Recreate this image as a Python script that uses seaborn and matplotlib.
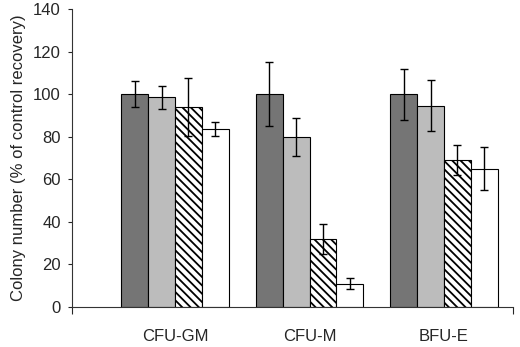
import numpy as np
import pandas as pd
import seaborn as sns
import matplotlib
matplotlib.use("Agg")
import matplotlib.pyplot as plt
from matplotlib.ticker import FixedLocator

# Data
categories = ['CFU-GM', 'CFU-M', 'BFU-E']
treatments = ['T1', 'T2', 'T3', 'T4']
means = {
    'T1': [100, 100, 100],
    'T2': [98.5, 80, 94.5],
    'T3': [94, 32, 69],
    'T4': [83.5, 11, 65],
}
errors = {
    'T1': [6, 15, 12],
    'T2': [5.5, 9, 12],
    'T3': [13.5, 7, 7],
    'T4': [3.2, 2.7, 10],
}
fills = ['#757575', '#bcbcbc', 'white', 'white']

rows = []
for t in treatments:
    for c, v in zip(categories, means[t]):
        rows.append({'cell': c, 'treatment': t, 'value': v})
df = pd.DataFrame(rows)

sns.set_style('white')
plt.rcParams['font.family'] = ['Liberation Sans', 'DejaVu Sans']
plt.rcParams['hatch.linewidth'] = 1.3

fig = plt.figure(figsize=(5.2, 3.47), dpi=100)
ax = fig.add_axes([0.1385, 0.1153, 0.848, 0.8588])

sns.barplot(data=df, x='cell', y='value', hue='treatment', order=categories,
            hue_order=treatments, palette=fills, errorbar=None, width=0.8,
            edgecolor='black', linewidth=0.8, saturation=1, legend=False, ax=ax)

# hatch on the third series, error bars from bar positions
for i, (cont, t) in enumerate(zip(ax.containers, treatments)):
    for bar, err in zip(cont, errors[t]):
        if i == 2:
            bar.set_hatch('\\\\\\\\')
        xc = bar.get_x() + bar.get_width() / 2
        ax.errorbar(xc, bar.get_height(), yerr=err, color='black',
                    elinewidth=1.0, capsize=3, capthick=1.0, zorder=5)

ax.set_ylim(0, 140)
ax.set_xlim(-0.766, 2.513)
ax.set_yticks(np.arange(0, 141, 20))
ax.set_ylabel('Colony number (% of control recovery)', fontsize=12, labelpad=5)
ax.set_xlabel('')

for s in ['top', 'right']:
    ax.spines[s].set_visible(False)
for s in ['left', 'bottom']:
    ax.spines[s].set_color('#333333')
    ax.spines[s].set_linewidth(0.8)

ax.tick_params(axis='y', left=True, length=3, width=0.8, pad=5, labelsize=12)
ax.tick_params(axis='x', bottom=False, pad=12, labelsize=12)
ax.xaxis.set_minor_locator(FixedLocator(list(ax.get_xlim())))
ax.tick_params(axis='x', which='minor', bottom=True, length=5, width=0.8)

fig.savefig('out.png', dpi=100)
